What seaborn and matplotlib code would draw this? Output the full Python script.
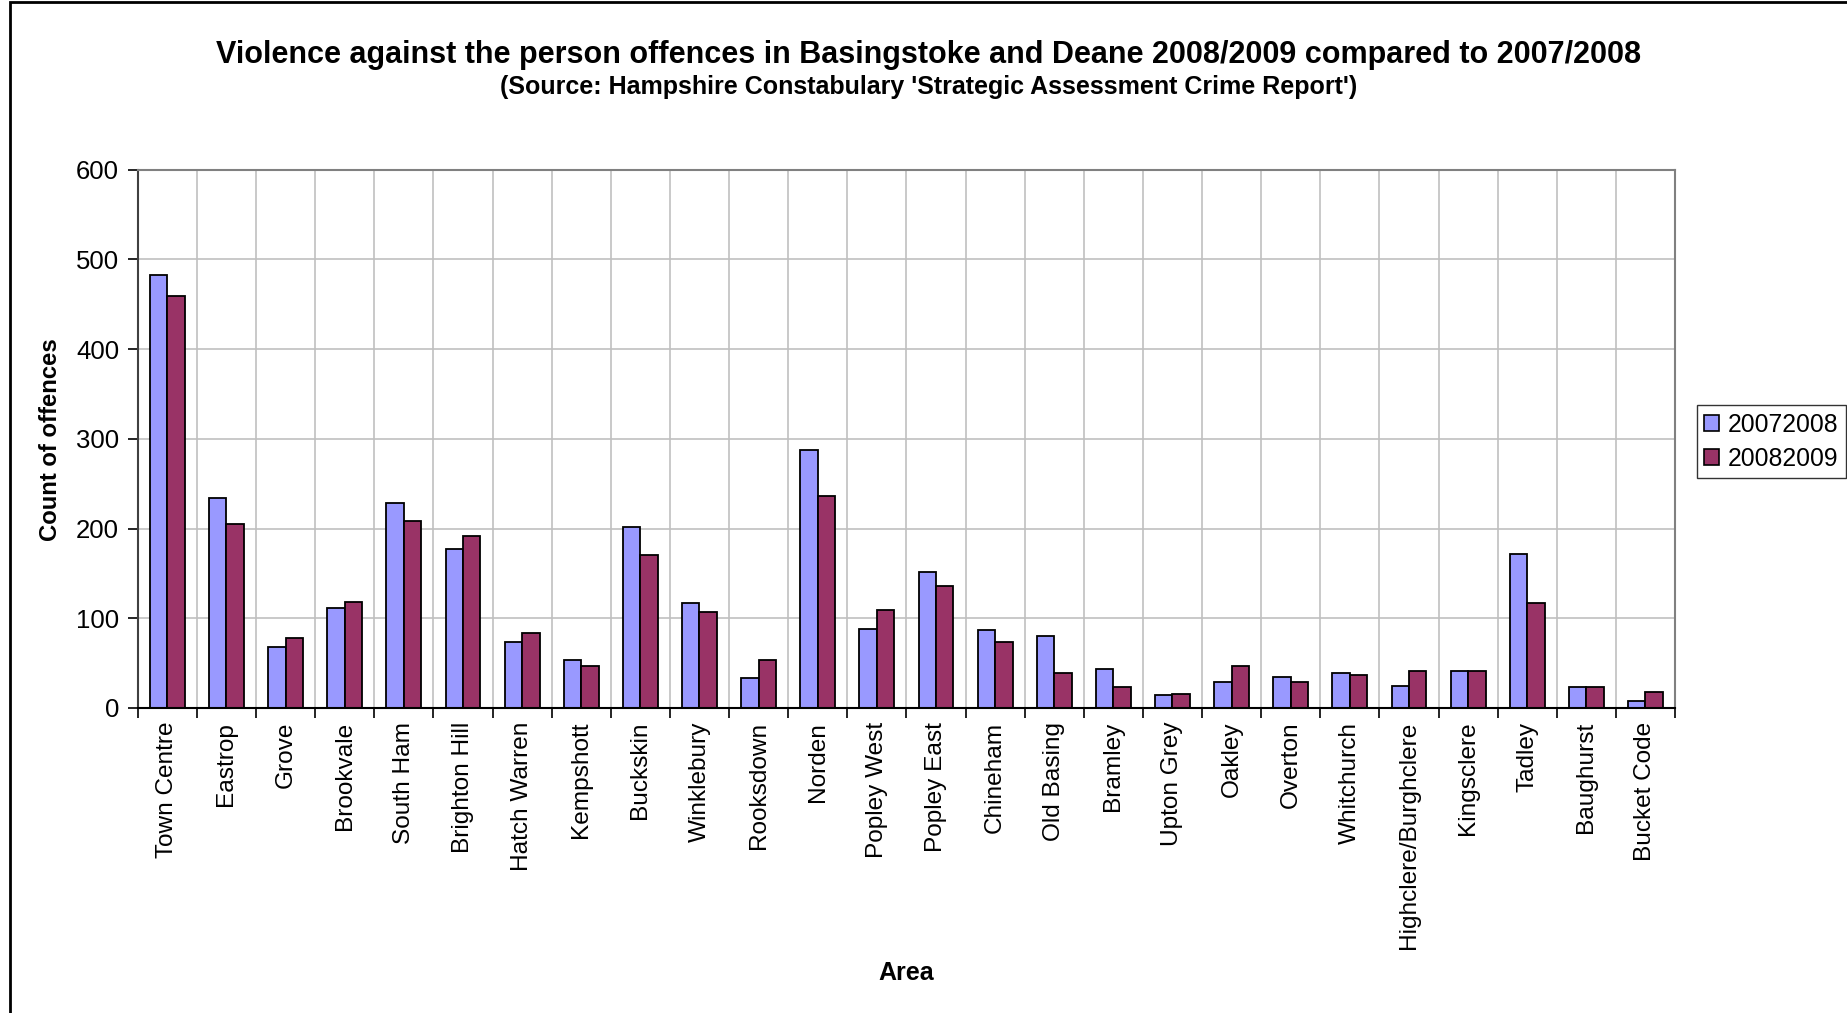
import numpy as np
import pandas as pd
import matplotlib
matplotlib.use("Agg")
import matplotlib.pyplot as plt
from matplotlib.patches import Rectangle, Patch
import seaborn as sns

# Offence counts per area for the two reporting years
areas = ["Town Centre", "Eastrop", "Grove", "Brookvale", "South Ham", "Brighton Hill",
         "Hatch Warren", "Kempshott", "Buckskin", "Winklebury", "Rooksdown", "Norden",
         "Popley West", "Popley East", "Chineham", "Old Basing", "Bramley", "Upton Grey",
         "Oakley", "Overton", "Whitchurch", "Highclere/Burghclere", "Kingsclere", "Tadley",
         "Baughurst", "Bucket Code"]
counts_2007_2008 = [482, 234, 68, 111, 228, 177, 74, 53, 202, 117, 33, 287,
                    88, 151, 87, 80, 43, 14, 29, 35, 39, 25, 41, 172, 23, 8]
counts_2008_2009 = [459, 205, 78, 118, 208, 192, 84, 47, 170, 107, 53, 236,
                    109, 136, 74, 39, 23, 16, 47, 29, 37, 41, 41, 117, 23, 18]
series_names = ["20072008", "20082009"]
series_colors = ["#9999FF", "#993366"]
y_ticks = [0, 100, 200, 300, 400, 500, 600]

df = pd.DataFrame({
    "Area": areas * 2,
    "Count": counts_2007_2008 + counts_2008_2009,
    "Year": [series_names[0]] * len(areas) + [series_names[1]] * len(areas),
})

sns.set_theme(style="white")
plt.rcParams["font.family"] = ["Liberation Sans", "DejaVu Sans"]
plt.rcParams.update({"text.color": "black", "axes.labelcolor": "black",
                     "xtick.color": "black", "ytick.color": "black"})

fig = plt.figure(figsize=(18.47, 10.13), dpi=100)
ax = fig.add_axes([0.0746, 0.3011, 0.8323, 0.5315])

sns.barplot(data=df, x="Area", y="Count", hue="Year", order=areas,
            hue_order=series_names, palette=series_colors, saturation=1,
            width=0.59, edgecolor="black", linewidth=1.3, errorbar=None,
            legend=False, ax=ax)

ax.set_xlim(-0.5, len(areas) - 0.5)
ax.set_ylim(0, 600)
ax.set_yticks(y_ticks)
ax.set_yticklabels([str(v) for v in y_ticks], fontsize=18.5)

# category labels at centres, tick marks and grid at category boundaries
ax.set_xticks(np.arange(len(areas)))
ax.set_xticklabels(areas, rotation=90, fontsize=17.6, va="top", ha="center")
ax.set_xticks(np.arange(-0.5, len(areas), 1.0), minor=True)
ax.tick_params(axis="x", which="major", length=0, pad=10)
ax.tick_params(axis="x", which="minor", length=7.5, width=1.2, color="black",
               direction="out", bottom=True)
ax.tick_params(axis="y", which="major", length=7.5, width=1.2, color="black",
               direction="out", left=True, pad=6)

ax.set_axisbelow(True)
ax.yaxis.grid(True, color="#C0C0C0", linewidth=1.2)
ax.xaxis.grid(True, which="minor", color="#C0C0C0", linewidth=1.2)
ax.xaxis.grid(False, which="major")

for side in ["top", "right"]:
    ax.spines[side].set_color("#808080")
    ax.spines[side].set_linewidth(1.5)
ax.spines["left"].set_color("#404040")
ax.spines["left"].set_linewidth(1.5)
ax.spines["bottom"].set_color("black")
ax.spines["bottom"].set_linewidth(1.5)

ax.set_xlabel("")
ax.set_ylabel("")
fig.text(0.0274, 0.5665, "Count of offences", rotation=90, ha="center", va="center",
         fontsize=17.2, fontweight="bold")
fig.text(0.4905, 0.0395, "Area", ha="center", va="center", fontsize=18, fontweight="bold")

fig.text(0.503, 0.9455, "Violence against the person offences in Basingstoke and Deane 2008/2009 compared to 2007/2008",
         ha="center", va="center", fontsize=22, fontweight="bold")
fig.text(0.503, 0.9140, "(Source: Hampshire Constabulary 'Strategic Assessment Crime Report')",
         ha="center", va="center", fontsize=18, fontweight="bold")

handles = [Patch(facecolor=c, edgecolor="black", linewidth=1.2) for c in series_colors]
leg = ax.legend(handles, series_names, loc="upper left",
                bbox_to_anchor=(0.9188, 0.6000), bbox_transform=fig.transFigure,
                fontsize=17.8, frameon=True, fancybox=False, borderaxespad=0,
                handlelength=0.6, handleheight=0.6, handletextpad=0.35,
                borderpad=0.3, labelspacing=0.4)
leg.get_frame().set_edgecolor("black")
leg.get_frame().set_linewidth(1.0)

# chart-area frame
fig.patches.append(Rectangle((10 / 1847, -0.05), 1.2, 1.05 - 2 / 1013,
                             transform=fig.transFigure, fill=False,
                             edgecolor="black", linewidth=2.0))

fig.savefig("out.png", dpi=100, facecolor="white")
